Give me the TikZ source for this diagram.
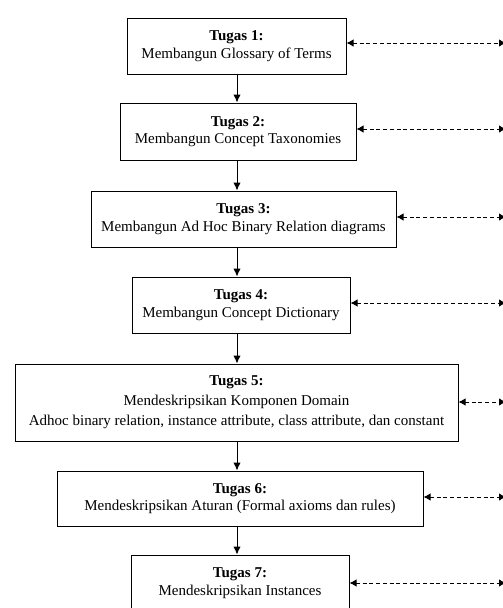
\documentclass[tikz,border=0pt]{standalone}
\usepackage{fontspec}
\setmainfont{Liberation Serif}
\usetikzlibrary{arrows.meta}
\begin{document}
\begin{tikzpicture}[x=1pt,y=-1pt,
  taskbox/.style={draw=black,line width=1pt,align=center,inner sep=0pt,
    font=\fontsize{15}{17.5}\selectfont},
  flow/.style={line width=1pt,-{Latex[length=8pt,width=7.5pt]}},
  link/.style={line width=1pt,dash pattern=on 4pt off 2.7pt,
    {Latex[length=7pt,width=7.5pt]}-{Latex[length=7pt,width=7.5pt]}}]
\useasboundingbox (0,0) rectangle (503,608);
\clip (0,0) rectangle (503,608);
\node[taskbox,minimum width=219pt,minimum height=56pt] (b1) at (236.5,46)
  {\textbf{Tugas 1:}\\Membangun Glossary of Terms};
\node[taskbox,minimum width=236pt,minimum height=57pt] (b2) at (238,131.5)
  {\textbf{Tugas 2:}\\Membangun Concept Taxonomies};
\node[taskbox,minimum width=305pt,minimum height=56pt] (b3) at (243.5,219)
  {\textbf{Tugas 3:}\\Membangun Ad Hoc Binary Relation diagrams};
\node[taskbox,minimum width=218pt,minimum height=56pt] (b4) at (241,305)
  {\textbf{Tugas 4:}\\Membangun Concept Dictionary};
\node[taskbox,minimum width=443pt,minimum height=77pt,
  font=\fontsize{15}{20}\selectfont] (b5) at (236.5,402.5)
  {\textbf{Tugas 5:}\\Mendeskripsikan Komponen Domain\\Adhoc binary relation, instance attribute, class attribute, dan constant};
\node[taskbox,minimum width=366pt,minimum height=55pt] (b6) at (240,498.5)
  {\textbf{Tugas 6:}\\Mendeskripsikan Aturan (Formal axioms dan rules)};
\node[taskbox,minimum width=218pt,minimum height=56pt] (b7) at (240,583)
  {\textbf{Tugas 7:}\\Mendeskripsikan Instances};
\coordinate (spine) at (237,0);
\foreach \a/\b in {b1/b2,b2/b3,b3/b4,b4/b5,b5/b6,b6/b7}
  \draw[flow] (\a.south -| spine) -- (\b.north -| spine);
\foreach \n/\y in {1/43,2/129,3/217,4/303,5/402,6/497,7/583}{
  \coordinate (r\n) at (506,\y);
  \draw[link] (b\n.east |- r\n) -- (r\n);
}
\end{tikzpicture}
\end{document}
